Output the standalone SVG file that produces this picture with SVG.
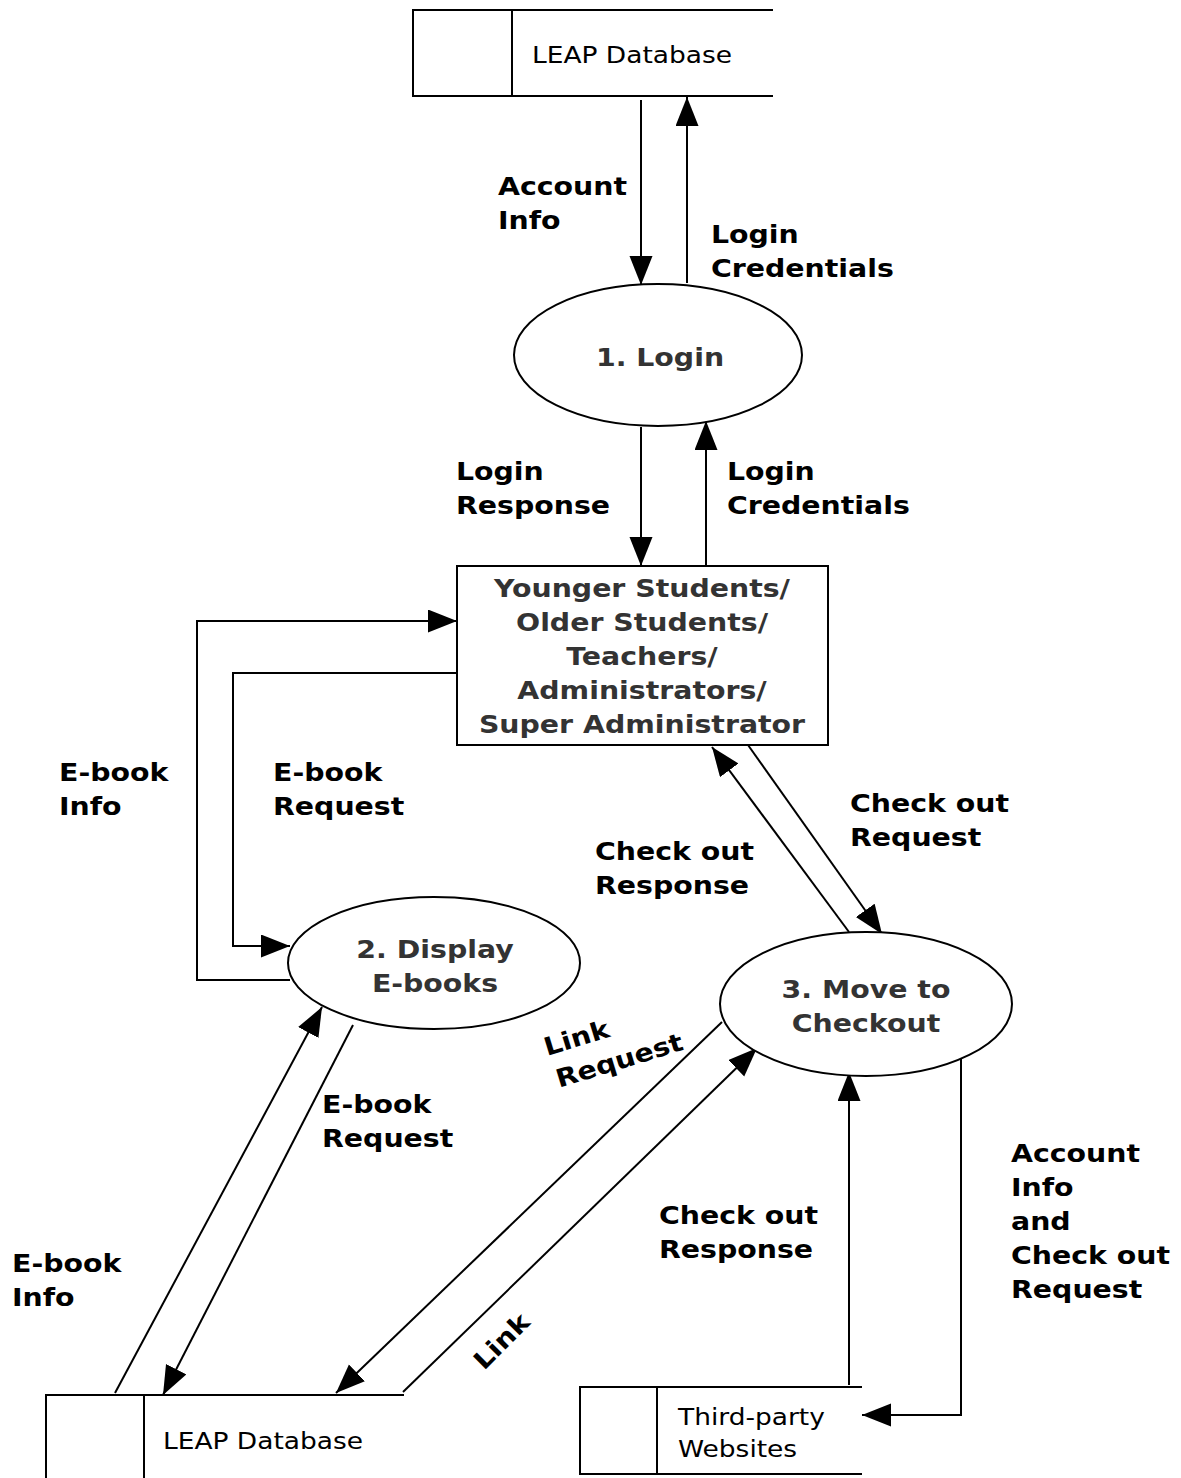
<svg xmlns="http://www.w3.org/2000/svg" width="1181" height="1478" viewBox="0 0 1181 1478">
<defs>
<marker id="ah" markerUnits="userSpaceOnUse" markerWidth="32" markerHeight="26" refX="29" refY="11.5" orient="auto">
<path d="M0,0 L29,11.5 L0,23 z" fill="#000"/>
</marker>
<style>
.ln{fill:none;stroke:#000;stroke-width:2}
.ar{fill:none;stroke:#000;stroke-width:2;marker-end:url(#ah)}
.nd{fill:#fff;stroke:#000;stroke-width:2}
.lb{font-family:"DejaVu Sans","Verdana",sans-serif;font-weight:bold;font-size:25px;fill:#000}
.nl{font-family:"DejaVu Sans","Verdana",sans-serif;font-weight:bold;font-size:25px;fill:#333;text-anchor:middle}
.st{font-family:"DejaVu Sans","Verdana",sans-serif;font-size:23px;fill:#000}
</style>
</defs>
<rect width="1181" height="1478" fill="#fff"/>

<g id="connectors">
<path class="ar" d="M641,100 V285"/>
<path class="ar" d="M687,283 V97"/>
<path class="ar" d="M641,427 V566"/>
<path class="ar" d="M706,566 V421"/>
<path class="ar" d="M290,980 H197 V621 H457"/>
<path class="ar" d="M457,673 H233 V946 H290"/>
<path class="ar" d="M849,932 L712,747"/>
<path class="ar" d="M748,745 L882,934"/>
<path class="ar" d="M115,1393 L322,1007"/>
<path class="ar" d="M353,1025 L163,1395"/>
<path class="ar" d="M722,1022 L336,1393"/>
<path class="ar" d="M403,1392 L757,1048"/>
<path class="ar" d="M849,1385 V1072"/>
<path class="ar" d="M961,1058 V1415 H862"/>
</g>

<g id="labels">
<text class="lb" transform="translate(498,195) scale(1.135,1)"><tspan x="0" y="0">Account</tspan><tspan x="0" y="34">Info</tspan></text>
<text class="lb" transform="translate(711,243) scale(1.135,1)"><tspan x="0" y="0">Login</tspan><tspan x="0" y="34">Credentials</tspan></text>
<text class="lb" transform="translate(456,480) scale(1.135,1)"><tspan x="0" y="0">Login</tspan><tspan x="0" y="34">Response</tspan></text>
<text class="lb" transform="translate(727,480) scale(1.135,1)"><tspan x="0" y="0">Login</tspan><tspan x="0" y="34">Credentials</tspan></text>
<text class="lb" transform="translate(59,781) scale(1.135,1)"><tspan x="0" y="0">E-book</tspan><tspan x="0" y="34">Info</tspan></text>
<text class="lb" transform="translate(273,781) scale(1.135,1)"><tspan x="0" y="0">E-book</tspan><tspan x="0" y="34">Request</tspan></text>
<text class="lb" transform="translate(850,812) scale(1.135,1)"><tspan x="0" y="0">Check out</tspan><tspan x="0" y="34">Request</tspan></text>
<text class="lb" transform="translate(595,860) scale(1.135,1)"><tspan x="0" y="0">Check out</tspan><tspan x="0" y="34">Response</tspan></text>
<text class="lb" transform="translate(322,1113) scale(1.135,1)"><tspan x="0" y="0">E-book</tspan><tspan x="0" y="34">Request</tspan></text>
<text class="lb" transform="translate(12,1272) scale(1.135,1)"><tspan x="0" y="0">E-book</tspan><tspan x="0" y="34">Info</tspan></text>
<text class="lb" transform="translate(547,1056) rotate(-17) scale(1.135,1)"><tspan x="0" y="0">Link</tspan><tspan x="2" y="34">Request</tspan></text>
<text class="lb" transform="translate(484,1371) rotate(-45) scale(1.135,1)">Link</text>
<text class="lb" transform="translate(659,1224) scale(1.135,1)"><tspan x="0" y="0">Check out</tspan><tspan x="0" y="34">Response</tspan></text>
<text class="lb" transform="translate(1011,1162) scale(1.135,1)"><tspan x="0" y="0">Account</tspan><tspan x="0" y="34">Info</tspan><tspan x="0" y="68">and</tspan><tspan x="0" y="102">Check out</tspan><tspan x="0" y="136">Request</tspan></text>
</g>

<g id="db-top">
<path class="ln" d="M773,10 H413 V96 H773 M512,10 V96"/>
<text class="st" transform="translate(532,63) scale(1.15,1)">LEAP Database</text>
</g>

<g id="p1-login">
<ellipse class="nd" cx="658" cy="355" rx="144" ry="71"/>
<text class="nl" transform="translate(660,366) scale(1.135,1)">1. Login</text>
</g>

<g id="users">
<rect class="nd" x="457" y="566" width="371" height="179"/>
<text class="nl" transform="translate(642,597) scale(1.135,1)"><tspan x="0" y="0">Younger Students/</tspan><tspan x="0" y="34">Older Students/</tspan><tspan x="0" y="68">Teachers/</tspan><tspan x="0" y="102">Administrators/</tspan><tspan x="0" y="136">Super Administrator</tspan></text>
</g>

<g id="p2-display">
<ellipse class="nd" cx="434" cy="963" rx="146" ry="66"/>
<text class="nl" transform="translate(435,958) scale(1.135,1)"><tspan x="0" y="0">2. Display</tspan><tspan x="0" y="34">E-books</tspan></text>
</g>

<g id="p3-checkout">
<ellipse class="nd" cx="866" cy="1004" rx="146" ry="72"/>
<text class="nl" transform="translate(866,998) scale(1.135,1)"><tspan x="0" y="0">3. Move to</tspan><tspan x="0" y="34">Checkout</tspan></text>
</g>

<g id="db-bottom">
<path class="ln" d="M404,1395 H46 V1478 M144,1395 V1478"/>
<text class="st" transform="translate(163,1449) scale(1.15,1)">LEAP Database</text>
</g>

<g id="third-party">
<path class="ln" d="M862,1387 H580 V1474 H862 M657,1387 V1474"/>
<text class="st" transform="translate(678,1425) scale(1.15,1)"><tspan x="0" y="0">Third-party</tspan><tspan x="0" y="32">Websites</tspan></text>
</g>
</svg>
